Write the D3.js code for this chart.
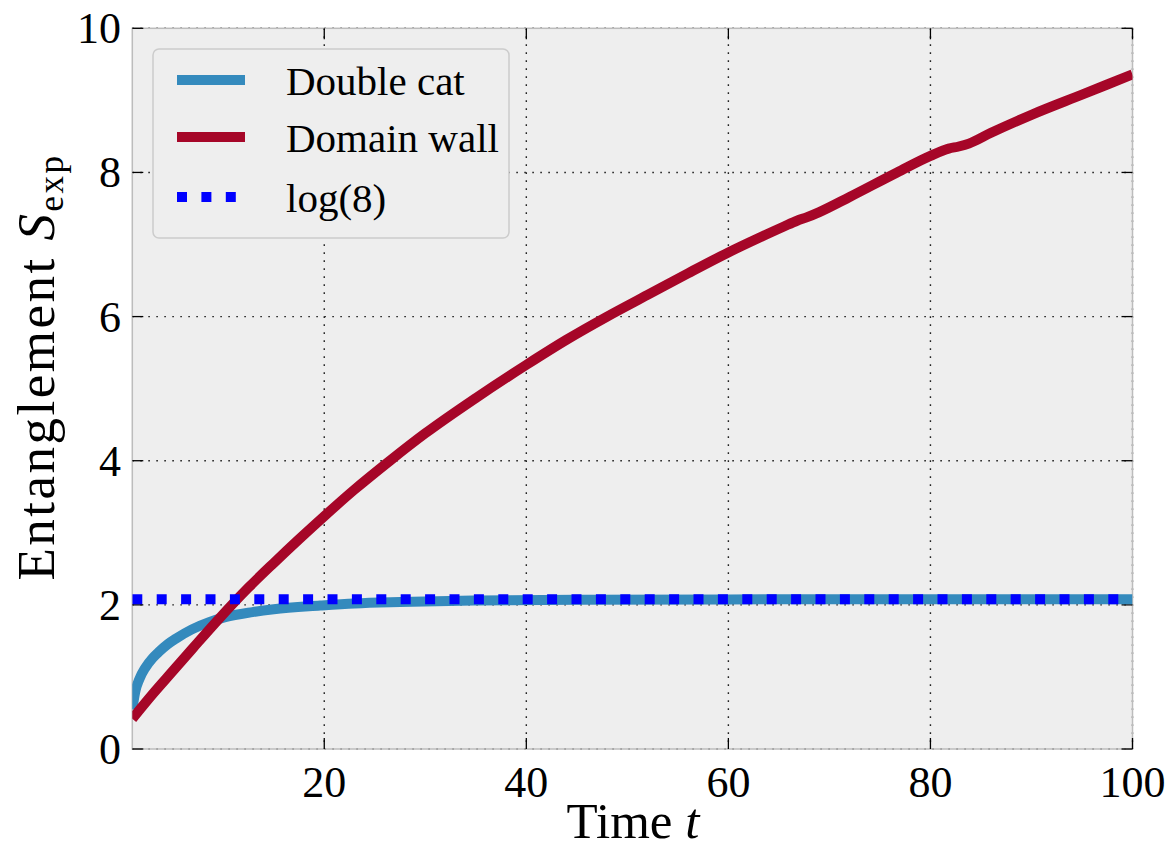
<!DOCTYPE html>
<html>
<head>
<meta charset="utf-8">
<script src="https://cdn.jsdelivr.net/npm/d3@7"></script>
<style>
  body { margin: 0; background: #ffffff; }
  svg text { font-family: "Liberation Serif", "DejaVu Serif", serif; fill: #000; }
</style>
</head>
<body>
<div id="chart"></div>
<script>
// time values and entanglement
var catT = [1, 1.3, 1.7, 2.3, 3, 3.6, 4.5, 5.3, 6.9, 8.6, 10.2, 12.9, 15, 19.6, 23, 27.5, 35, 45, 60, 80, 100];
var catS = [0.55, 0.8, 0.97, 1.13, 1.26, 1.344, 1.454, 1.53, 1.66, 1.76, 1.83, 1.9, 1.94, 1.99, 2.02, 2.04, 2.06, 2.07, 2.076, 2.078, 2.079];

var wallT = [1, 3, 5, 7, 9.6, 12.5, 15, 17.5, 20, 23, 26.5, 30, 35, 40, 44, 48, 52, 56, 60, 63, 65.5, 66.8, 67.8, 69, 72, 76.7, 80, 81.8, 82.8, 83.8, 86, 90, 95, 100];
var wallS = [0.42, 0.76, 1.08, 1.4, 1.81, 2.24, 2.58, 2.91, 3.23, 3.6, 4.0, 4.38, 4.87, 5.33, 5.68, 6.0, 6.3, 6.6, 6.89, 7.09, 7.25, 7.33, 7.38, 7.45, 7.66, 8.0, 8.23, 8.33, 8.36, 8.4, 8.55, 8.8, 9.08, 9.36];

var logT = [1, 100];
var logS = [2.0794, 2.0794];

var xTicks = [20, 40, 60, 80, 100];
var yTicks = [0, 2, 4, 6, 8, 10];

var legendLabels = ['Double cat', 'Domain wall', 'log(8)'];

var width = 1167, height = 849;
var plotL = 132.3, plotR = 1132.5, plotT = 28.3, plotB = 749;

var svg = d3.select('#chart').append('svg')
	.attr('width', width)
	.attr('height', height);

var x = d3.scaleLinear().domain([1, 100]).range([plotL, plotR]);
var y = d3.scaleLinear().domain([0, 10]).range([plotB, plotT]);

// background
svg.append('rect')
	.attr('x', plotL).attr('y', plotT)
	.attr('width', plotR - plotL).attr('height', plotB - plotT)
	.style('fill', '#eeeeee');

svg.append('clipPath').attr('id', 'clip').append('rect')
	.attr('x', plotL).attr('y', plotT)
	.attr('width', plotR - plotL).attr('height', plotB - plotT);

// grid
var grid = svg.append('g');
grid.selectAll('.vgrid').data(xTicks).enter().append('line')
	.attr('x1', x).attr('x2', x)
	.attr('y1', plotT).attr('y2', plotB)
	.style('stroke', '#222').style('stroke-width', 1.4).style('stroke-dasharray', '1.6,6.4');
grid.selectAll('.hgrid').data(yTicks).enter().append('line')
	.attr('y1', y).attr('y2', y)
	.attr('x1', plotL).attr('x2', plotR)
	.style('stroke', '#222').style('stroke-width', 1.4).style('stroke-dasharray', '1.6,6.4');

// frame
svg.append('rect')
	.attr('x', plotL).attr('y', plotT)
	.attr('width', plotR - plotL).attr('height', plotB - plotT)
	.style('fill', 'none').style('stroke', '#bcbcbc').style('stroke-width', 1.5);

// tick marks (inside, all four sides)
var tickLen = 11;
var ticks = svg.append('g').style('stroke', '#000').style('stroke-width', 1.3);
xTicks.forEach(function(t) {
	ticks.append('line').attr('x1', x(t)).attr('x2', x(t)).attr('y1', plotB).attr('y2', plotB - tickLen);
	ticks.append('line').attr('x1', x(t)).attr('x2', x(t)).attr('y1', plotT).attr('y2', plotT + tickLen);
});
yTicks.forEach(function(t) {
	ticks.append('line').attr('y1', y(t)).attr('y2', y(t)).attr('x1', plotL).attr('x2', plotL + tickLen);
	ticks.append('line').attr('y1', y(t)).attr('y2', y(t)).attr('x1', plotR).attr('x2', plotR - tickLen);
});

// tick labels
svg.selectAll('.xlab').data(xTicks).enter().append('text')
	.attr('x', x).attr('y', 797)
	.attr('text-anchor', 'middle')
	.attr('font-size', '44px')
	.text(function(d) {return d;});
svg.selectAll('.ylab').data(yTicks).enter().append('text')
	.attr('x', 121).attr('y', function(d) {return y(d) + 15;})
	.attr('text-anchor', 'end')
	.attr('font-size', '44px')
	.text(function(d) {return d;});

// axis titles
var xt = svg.append('text')
	.attr('x', 633).attr('y', 838)
	.attr('text-anchor', 'middle')
	.attr('font-size', '51px');
xt.append('tspan').text('Time ');
xt.append('tspan').style('font-style', 'italic').text('t');

var yt = svg.append('text')
	.attr('transform', 'translate(54,' + 367 + ') rotate(-90)')
	.attr('text-anchor', 'middle')
	.attr('font-size', '53px')
	.style('letter-spacing', '2.5px');
yt.append('tspan').text('Entanglement ');
yt.append('tspan').style('font-style', 'italic').text('S');
yt.append('tspan').attr('font-size', '35px').attr('dy', 9).text('exp');

// series
var pairs = function(ts, ss) {
	return ts.map(function(t, i) {return [t, ss[i]];});
};
var line = d3.line()
	.x(function(d) {return x(d[0]);})
	.y(function(d) {return y(d[1]);})
	.curve(d3.curveMonotoneX);

var plot = svg.append('g').attr('clip-path', 'url(#clip)');

plot.append('path')
	.attr('d', line(pairs(catT, catS)))
	.style('fill', 'none').style('stroke', '#348ABD').style('stroke-width', 10);

plot.append('path')
	.attr('d', line(pairs(wallT, wallS)))
	.style('fill', 'none').style('stroke', '#A60628').style('stroke-width', 10);

plot.append('path')
	.attr('d', line(pairs(logT, logS)))
	.style('fill', 'none').style('stroke', '#0000ff').style('stroke-width', 10)
	.style('stroke-dasharray', '10,14.4');

// legend
var legend = svg.append('g');
legend.append('rect')
	.attr('x', 153).attr('y', 49)
	.attr('width', 356).attr('height', 189)
	.attr('rx', 6).attr('ry', 6)
	.style('fill', '#eeeeee').style('stroke', '#cccccc').style('stroke-width', 1.5);

var legendColors = ['#348ABD', '#A60628', '#0000ff'];
var legendDash = [null, null, '10,14.4'];
var legendY = [80, 137, 197];

legend.selectAll('.lline').data(legendLabels).enter().append('line')
	.attr('x1', 177).attr('x2', 245)
	.attr('y1', function(d, i) {return legendY[i];})
	.attr('y2', function(d, i) {return legendY[i];})
	.style('stroke', function(d, i) {return legendColors[i];})
	.style('stroke-width', 10)
	.style('stroke-dasharray', function(d, i) {return legendDash[i];});

legend.selectAll('.ltext').data(legendLabels).enter().append('text')
	.attr('x', 286)
	.attr('y', function(d, i) {return legendY[i] + 15;})
	.attr('font-size', '41px')
	.text(function(d) {return d;});
</script>
</body>
</html>
